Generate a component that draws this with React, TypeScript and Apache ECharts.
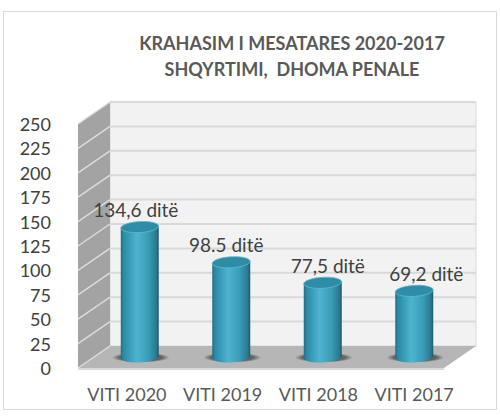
import React, { useEffect, useRef } from "react";
import * as echarts from "echarts";

const categories = ["VITI 2020", "VITI 2019", "VITI 2018", "VITI 2017"];
const values = [134.6, 98.5, 77.5, 69.2];
const valueLabels = ["134,6 ditë", "98.5 ditë", "77,5 ditë", "69,2 ditë"];
const labelShiftX = [-4, -5, 5, 12];
const yTicks = [0, 25, 50, 75, 100, 125, 150, 175, 200, 225, 250];
const titleText = "KRAHASIM I MESATARES 2020-2017\nSHQYRTIMI,  DHOMA PENALE";

const FONT = "Lato";
const DX = 32;
const DY = -22;
const BAR_RX = 19;
const BAR_RY = 5.5;
const TILT = 0.06;

const barFill = () =>
  new echarts.graphic.LinearGradient(0, 0, 1, 0, [
    { offset: 0, color: "#1f7088" },
    { offset: 0.08, color: "#2c8ba6" },
    { offset: 0.42, color: "#4db4cf" },
    { offset: 0.72, color: "#3a9db8" },
    { offset: 0.93, color: "#2a7a91" },
    { offset: 1, color: "#1c5a6d" },
  ]);

const renderWalls = (params: any, api: any) => {
  if (params.dataIndex !== 0) return { type: "group", children: [] };
  const c = params.coordSys;
  const yOf = (v: number) => api.coord([0, v])[1];
  const x0 = c.x;
  const x1 = c.x + c.width;
  const y0 = yOf(0);
  const yT = yOf(yTicks[yTicks.length - 1]);
  const children: any[] = [
    { type: "polygon", shape: { points: [[x0 + DX, yT + DY], [x1 + DX, yT + DY], [x1 + DX, y0 + DY], [x0 + DX, y0 + DY]] }, style: { fill: "#f2f2f2", stroke: "#d9d9d9", lineWidth: 1 } },
    { type: "polygon", shape: { points: [[x0, yT], [x0 + DX, yT + DY], [x0 + DX, y0 + DY], [x0, y0]] }, style: { fill: "#a3a3a3" } },
    { type: "polygon", shape: { points: [[x0, y0], [x0 + DX, y0 + DY], [x1 + DX, y0 + DY], [x1, y0]] }, style: { fill: "#b6b6b6" } },
    { type: "line", shape: { x1: x0, y1: y0 + 1, x2: x1, y2: y0 + 1 }, style: { stroke: "#d9d9d9", lineWidth: 2 } },
  ];
  yTicks.forEach((t) => {
    const y = yOf(t);
    if (t > 0) {
      children.push({ type: "line", shape: { x1: x0 + DX, y1: y + DY, x2: x1 + DX, y2: y + DY }, style: { stroke: "#d9d9d9", lineWidth: 2 } });
    }
    children.push({ type: "line", shape: { x1: x0, y1: y, x2: x0 + DX, y2: y + DY }, style: { stroke: "#dcdcdc", lineWidth: 1.5 } });
  });
  return { type: "group", children };
};

const renderBar = (params: any, api: any) => {
  const i = api.value(0);
  const [cx0, yTop0] = api.coord([i, api.value(1)]);
  const [, yBase0] = api.coord([i, 0]);
  const cx = cx0 + DX / 2;
  const yTop = yTop0 + DY / 2 + 1.5;
  const yBase = yBase0 + DY / 2;
  const rot = (cy: number) => ({ rotation: TILT, originX: cx, originY: cy });
  const dy = BAR_RX * TILT;
  const shadow = new echarts.graphic.RadialGradient(0.5, 0.5, 0.5, [
    { offset: 0, color: "rgba(40,40,40,0.85)" },
    { offset: 0.75, color: "rgba(50,50,50,0.6)" },
    { offset: 1, color: "rgba(60,60,60,0)" },
  ]);
  return {
    type: "group",
    children: [
      { type: "ellipse", shape: { cx: cx + 1, cy: yBase + 0.5, rx: BAR_RX + 10, ry: BAR_RY - 0.5 }, style: { fill: shadow } },
      { type: "ellipse", shape: { cx, cy: yBase, rx: BAR_RX, ry: BAR_RY }, ...rot(yBase), style: { fill: barFill() } },
      { type: "polygon", shape: { points: [[cx - BAR_RX, yTop + dy], [cx + BAR_RX, yTop - dy], [cx + BAR_RX, yBase - dy], [cx - BAR_RX, yBase + dy]] }, style: { fill: barFill() } },
      { type: "ellipse", shape: { cx, cy: yTop, rx: BAR_RX, ry: BAR_RY }, ...rot(yTop), style: { fill: "#2f8ca6", stroke: "#5cbdd6", lineWidth: 0.8 } },
      { type: "text", x: cx + labelShiftX[i], y: yTop - BAR_RY - 12, style: { text: valueLabels[i], font: `19px ${FONT}`, fill: "#404040", align: "center", verticalAlign: "middle" } },
    ],
  };
};

export default function App() {
  const ref = useRef<HTMLDivElement>(null);
  useEffect(() => {
    document.body.style.margin = "0";
    const chart = echarts.init(ref.current!, null, { renderer: "svg" });
    chart.setOption({
      animation: false,
      backgroundColor: "#ffffff",
      title: {
        text: titleText,
        left: 287,
        top: 25,
        textAlign: "center",
        textStyle: { fontFamily: FONT, fontWeight: "bold", fontSize: 18, lineHeight: 26, color: "#595959" },
      },
      grid: [
        { left: 78, right: 56, top: 124, bottom: 48 },
        { left: 79, right: 38, top: 124, bottom: 48 },
      ],
      xAxis: [
        {
          type: "category",
          gridIndex: 0,
          data: categories,
          axisLine: { show: false },
          axisTick: { show: false },
          axisLabel: { show: false },
        },
        {
          type: "category",
          gridIndex: 1,
          data: categories,
          axisLine: { show: false },
          axisTick: { show: false },
          axisLabel: { fontFamily: FONT, fontSize: 18, color: "#595959", margin: 17, interval: 0 },
        },
      ],
      yAxis: [
        {
          type: "value",
          gridIndex: 0,
          min: 0,
          max: 250,
          interval: 25,
          axisLine: { show: false },
          axisTick: { show: false },
          splitLine: { show: false },
          axisLabel: { fontFamily: FONT, fontSize: 18, color: "#404040", margin: 27, padding: [2, 0, 0, 0] },
        },
        { type: "value", gridIndex: 1, min: 0, max: 250, show: false },
      ],
      series: [
        { type: "custom", xAxisIndex: 0, yAxisIndex: 0, renderItem: renderWalls, data: yTicks.map((t) => [0, t]), encode: { x: 0, y: 1 }, silent: true, z: 1 },
        { type: "custom", xAxisIndex: 0, yAxisIndex: 0, renderItem: renderBar, data: values.map((v, i) => [i, v]), encode: { x: 0, y: 1 }, z: 2 },
      ],
      graphic: [
        { type: "rect", shape: { x: 3.5, y: 11.5, width: 493, height: 398 }, style: { fill: "none", stroke: "#d9d9d9", lineWidth: 1 }, silent: true, z: 100 },
      ],
    });
    return () => chart.dispose();
  }, []);
  return <div ref={ref} style={{ position: "absolute", left: 0, top: 0, width: 500, height: 416 }} />;
}
